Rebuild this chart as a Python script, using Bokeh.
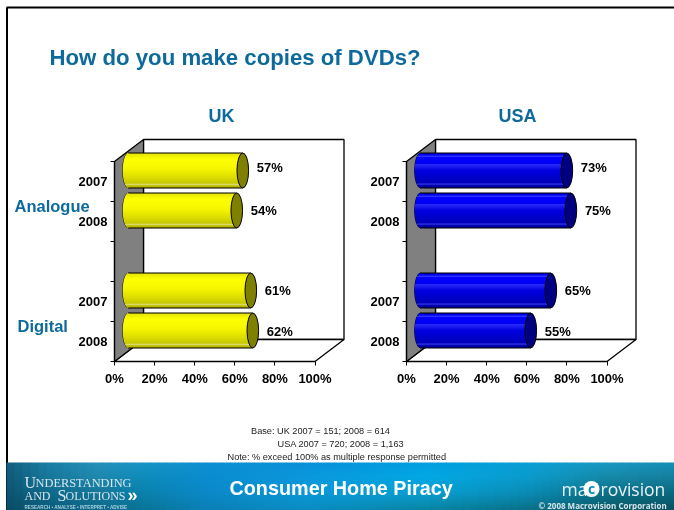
import numpy as np
from bokeh.core.properties import value
from bokeh.embed import file_html
from bokeh.models import FixedTicker, LinearAxis, PrintfTickFormatter, Range1d
from bokeh.plotting import figure
from bokeh.resources import INLINE

# ---- data ----
title = "How do you make copies of DVDs?"
panels = ["UK", "USA"]
years = ["2007", "2008", "2007", "2008"]
groups = ["Analogue", "Digital"]
uk_values = [57, 54, 61, 62]
usa_values = [73, 75, 65, 55]
x_ticks = [0, 20, 40, 60, 80, 100]
notes = ["Base: UK 2007 = 151; 2008 = 614", "USA 2007 = 720; 2008 = 1,163",
         "Note: % exceed 100% as multiple response permitted"]

W, H = 674, 510
SCALE = 2.005           # px per percent
SLOT = 40.0             # px per category slot
ORIGIN = {"UK": 114.0, "USA": 406.0}
SLOT_TOP = 161.0
DEPTH_X, DEPTH_Y = 29 / SCALE, 22 / SLOT
slots = [0.5, 1.5, 3.5, 4.5]

p = figure(width=W, height=H, output_backend="svg", toolbar_location=None,
           x_range=Range1d(0, W), y_range=Range1d(H, 0),
           x_axis_type=None, y_axis_type=None, min_border=0,
           background_fill_color="white", border_fill_color="white", outline_line_color=None)
p.grid.visible = False
p.styles = {"position": "fixed", "left": "0px", "top": "0px"}

p.extra_y_ranges["slots"] = Range1d(start=(H - SLOT_TOP) / SLOT, end=-SLOT_TOP / SLOT)
for name in panels:
    p.extra_x_ranges[name] = Range1d(start=-ORIGIN[name] / SCALE, end=(W - ORIGIN[name]) / SCALE)

# ---- page frame ----
p.line([6.5, 6.5], [H, 7], line_color="black", line_width=2)
p.line([6, W], [7, 7], line_color="black", line_width=2)

# ---- banner gradient ----
stops_x = np.array([0, 40, 90, 140, 200, 300, 420, 520, 600, 668])
stops_rows = [
    ["#145f80", "#1a7da3", "#2590bb", "#1795c6", "#0f8fd2", "#0a90d8", "#009fe0", "#0a9fd4", "#1a98c4", "#1690b8"],
    ["#0f5a78", "#17779a", "#2088ae", "#0e8cbc", "#0a8cd0", "#0a98dc", "#02a8e4", "#0a9ccd", "#168aa9", "#167f9f"],
    ["#0c5570", "#0f6a8c", "#15789a", "#0a82ae", "#0a88c8", "#0a98d8", "#089fd2", "#0a8cb5", "#0c7188", "#0b6a80"],
    ["#0a4c66", "#0b5a78", "#0e6888", "#0a7498", "#0a80b4", "#0a8cc0", "#0a84a0", "#0a7088", "#0a5a68", "#0a5060"],
]
ROW_Y = [462, 476, 492, 510]
CELL_H = 2
CELL_W = 8


def rgb(h):
    return [int(h[i:i + 2], 16) for i in (1, 3, 5)]


grid = np.array([[rgb(c) for c in row] for row in stops_rows], dtype=float)
cols_l = np.arange(0, 668, CELL_W)
rows_t = np.arange(462, 510, CELL_H)
lefts, rights, tops, bottoms, fills = [], [], [], [], []
for cx0 in cols_l:
    col = [np.interp(cx0 + CELL_W / 2, stops_x, grid[r, :, c]) for r in range(4) for c in range(3)]
    col = np.array(col).reshape(4, 3)
    for ty in rows_t:
        colr = [int(np.interp(ty + CELL_H / 2, ROW_Y, col[:, c])) for c in range(3)]
        lefts.append(6 + cx0); rights.append(6 + cx0 + CELL_W + .5)
        tops.append(ty); bottoms.append(ty + CELL_H + .5)
        fills.append("#%02x%02x%02x" % tuple(colr))
p.quad(left=lefts, right=rights, top=tops, bottom=bottoms, fill_color=fills, line_color=None)

# ---- chart furniture and cylinders ----
YELLOW = ([0, .04, .18, .45, .70, .86, .90, .93, 1],
          ["#d8d800", "#e8e800", "#ffff00", "#f6f600", "#dcdc00", "#c8c800", "#d8d870", "#c4c400", "#a8a800"],
          "#808000")
BLUE = ([0, .05, .10, .13, .30, .33, .50, .85, .89, .92, 1],
        ["#0000c8", "#0000f0", "#3030ff", "#0000ff", "#0000f4", "#2828f8", "#0000e0", "#0000b8", "#3434ec", "#0000b0", "#000090"],
        "#000080")
RX = 5.8 / SCALE
BAR_HALF = 17.5 / SLOT
BAR_DX, BAR_DY = 14 / SCALE, -11 / SLOT
N_BANDS = 35


def band_colour(t, scheme):
    pos, cols = scheme[0], scheme[1]
    arr = np.array([rgb(c) for c in cols], dtype=float)
    return "#%02x%02x%02x" % tuple(int(round(np.interp(t, pos, arr[:, c]))) for c in range(3))


def panel(name, values, scheme, label_nudge, cx):
    kw = dict(x_range_name=name, y_range_name="slots")
    # walls
    p.patch([DEPTH_X, DEPTH_X + 100, DEPTH_X + 100, DEPTH_X], [-DEPTH_Y, -DEPTH_Y, 5 - DEPTH_Y, 5 - DEPTH_Y],
            fill_color="white", line_color="black", line_width=1.3, **kw)
    p.patch([0, DEPTH_X, DEPTH_X + 100, 100], [5, 5 - DEPTH_Y, 5 - DEPTH_Y, 5],
            fill_color="white", line_color="black", line_width=1.3, **kw)
    p.patch([0, DEPTH_X, DEPTH_X, 0], [0, -DEPTH_Y, 5 - DEPTH_Y, 5],
            fill_color="#808080", line_color="black", line_width=1.3, **kw)

    for v, s, nudge in zip(values, slots, label_nudge):
        base, end, mid = BAR_DX, v + BAR_DX, s + BAR_DY
        p.ellipse([base], [mid], width=2 * RX * SCALE, height=2 * BAR_HALF * SLOT, width_units="screen",
                  height_units="screen", fill_color="black", line_color="black", line_width=1, **kw)
        edges = np.linspace(0, 1, N_BANDS + 1)
        mids = (edges[:-1] + edges[1:]) / 2
        left = base - RX * np.sqrt(np.clip(1 - (2 * mids - 1) ** 2, 0, 1))
        p.quad(left=left, right=[end] * N_BANDS,
               top=mid - BAR_HALF + edges[:-1] * 2 * BAR_HALF,
               bottom=mid - BAR_HALF + edges[1:] * 2 * BAR_HALF,
               fill_color=[band_colour(t, scheme) for t in mids], line_color=None, **kw)
        p.segment([base, base], [mid - BAR_HALF, mid + BAR_HALF], [end, end], [mid - BAR_HALF, mid + BAR_HALF],
                  line_color="black", line_width=1, **kw)
        p.ellipse([end], [mid], width=2 * RX * SCALE, height=2 * BAR_HALF * SLOT, width_units="screen",
                  height_units="screen", fill_color=scheme[2], line_color="black", line_width=1, **kw)
        p.text([end], [mid], text=[f"{v}%"], x_offset=14, y_offset=nudge, text_font=value("Liberation Sans"),
               text_font_style="bold", text_font_size="13px", text_color="black",
               text_align="left", text_baseline="middle", **kw)

    xa = LinearAxis(x_range_name=name, y_range_name="slots", fixed_location=5, bounds=(0, 100),
                    ticker=FixedTicker(ticks=x_ticks), formatter=PrintfTickFormatter(format="%d%%"))
    ya = LinearAxis(x_range_name=name, y_range_name="slots", fixed_location=0, bounds=(0, 5),
                    ticker=FixedTicker(ticks=[.5, 1.5, 2.5, 3.5, 4.5], minor_ticks=[0, 1, 2, 3, 4, 5]),
                    major_label_overrides={.5: years[0], 1.5: years[1], 2.5: "", 3.5: years[2], 4.5: years[3]})
    xa.major_tick_in = 0
    xa.major_tick_out = 4
    xa.minor_tick_out = 0
    xa.major_label_standoff = 5
    ya.major_tick_in = 0
    ya.major_tick_out = 0
    ya.minor_tick_in = 0
    ya.minor_tick_out = 4
    ya.major_label_standoff = 3
    for a in (xa, ya):
        a.major_label_text_font = "Liberation Sans"
        a.major_label_text_font_style = "bold"
        a.major_label_text_font_size = "13px"
        a.major_label_text_color = "black"
        a.axis_line_color = "black"
        a.axis_line_width = 1.2
        a.major_tick_line_color = "black"
        a.minor_tick_line_color = "black"
    p.add_layout(xa, "below")
    p.add_layout(ya, "left")
    p.text([cx], [115], text=[name], text_font=value("Liberation Sans"), text_font_style="bold",
           text_font_size="18px", text_color="#0d6a9c", text_align="center", text_baseline="middle")


panel("UK", uk_values, YELLOW, [-3, 0, 0, 1], 221)
panel("USA", usa_values, BLUE, [-3, 0, 0, 1], 517)


def label(x, y, t, size, color="black", style="normal", font="Liberation Sans", align="left"):
    p.text([x], [y], text=[t], text_font=value(font), text_font_style=style, text_font_size=size,
           text_color=color, text_align=align, text_baseline="middle")


TEAL = "#0d6a9c"
label(49, 57, title, "22.2px", TEAL, "bold")
label(14, 205, groups[0], "16.5px", TEAL, "bold")
label(17, 325, groups[1], "16.5px", TEAL, "bold")
label(250.5, 430.5, notes[0], "9.2px", "#222222")
label(277, 443, notes[1], "9.2px", "#222222")
label(227, 456.5, notes[2], "9.2px", "#222222")

# ---- banner text ----
label(229, 487, "Consumer Home Piracy", "19.8px", "white", "bold")
label(24, 482, "U", "16px", "#d8e6ec", font="Liberation Serif")
label(35, 482.5, "NDERSTANDING", "12.4px", "#d8e6ec", font="Liberation Serif")
label(24, 495, "AND", "12px", "#d8e6ec", font="Liberation Serif")
label(57, 494.5, "S", "16px", "#d8e6ec", font="Liberation Serif")
label(65, 495, "OLUTIONS", "12px", "#d8e6ec", font="Liberation Serif")
label(127, 494, "\u00bb", "18px", "white", "bold")
label(24, 506.5, "RESEARCH \u2022 ANALYSE \u2022 INTERPRET \u2022 ADVISE", "4.6px", "#a8d0e0", "bold")
label(561, 488, "ma", "17.5px", "#e8f2f6", font="Open Sans")
p.circle([591], [488.5], radius=8, radius_units="screen", fill_color="white", line_color=None)
label(591, 488, "c", "14px", "#0a8cb8", "bold", font="Open Sans", align="center")
label(600, 488, "rovision", "17.5px", "#e8f2f6", font="Open Sans")
label(538, 504.5, "\u00a9 2008 Macrovision Corporation", "8px", "#d8e6ec", "bold", font="Open Sans")

open("out.html", "w").write(file_html(p, INLINE))
